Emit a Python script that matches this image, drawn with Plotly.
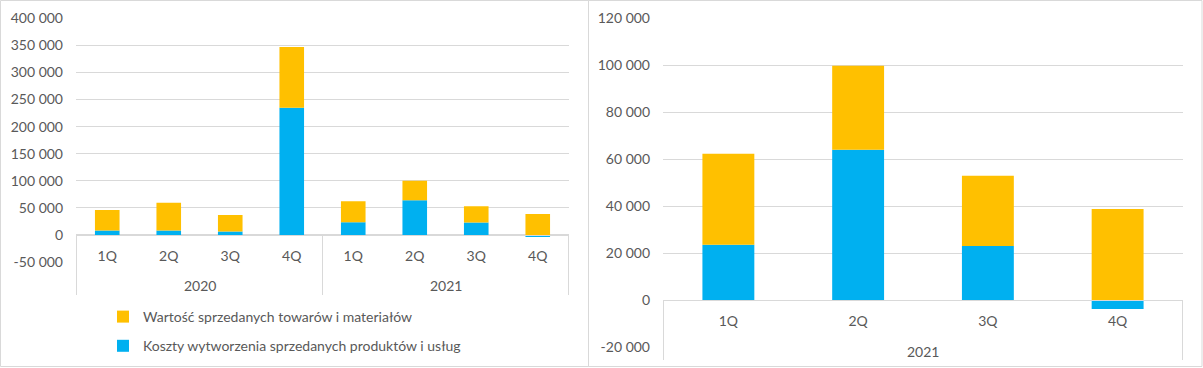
import plotly.graph_objects as go

# ---- data ----
years_left = ["2020", "2020", "2020", "2020", "2021", "2021", "2021", "2021"]
quarters_left = ["1Q", "2Q", "3Q", "4Q", "1Q", "2Q", "3Q", "4Q"]
koszty_left = [8000, 8000, 6100, 234900, 23500, 64000, 23000, -3800]
wartosc_left = [38100, 51600, 30800, 111900, 38800, 35800, 29900, 38800]

years_right = ["2021", "2021", "2021", "2021"]
quarters_right = ["1Q", "2Q", "3Q", "4Q"]
koszty_right = [23500, 64000, 23000, -3800]
wartosc_right = [38800, 35800, 29900, 38800]

name_wartosc = "Wartość sprzedanych towarów i materiałów"
name_koszty = "Koszty wytworzenia sprzedanych produktów i usług"

left_tickvals = [-50000, 0, 50000, 100000, 150000, 200000, 250000, 300000, 350000, 400000]
left_ticktext = ["-50 000", "0", "50 000", "100 000", "150 000", "200 000", "250 000", "300 000", "350 000", "400 000"]
right_tickvals = [-20000, 0, 20000, 40000, 60000, 80000, 100000, 120000]
right_ticktext = ["-20 000", "0", "20 000", "40 000", "60 000", "80 000", "100 000", "120 000"]

# ---- style ----
W, H = 1203, 368
BLUE = "#00B0F0"
YELLOW = "#FFC000"
TXT = "#595959"
GRID = "#D9D9D9"
FONT = "Lato"


def px_x(p):
    return p / W


def px_y(p):
    return 1 - p / H


def keys(years, quarters):
    return [f"{y} {q}" for y, q in zip(years, quarters)]


def year_groups(years):
    """Return (year, center index, start boundary, end boundary) for each year group."""
    groups = []
    start = 0
    for i in range(1, len(years) + 1):
        if i == len(years) or years[i] != years[start]:
            groups.append((years[start], (start + i - 1) / 2, start - 0.5, i - 0.5))
            start = i
    return groups


keys_left = keys(years_left, quarters_left)
keys_right = keys(years_right, quarters_right)

fig = go.Figure()
fig.add_trace(go.Bar(x=keys_left, y=koszty_left, name=name_koszty,
                     marker=dict(color=BLUE, line=dict(width=0)), xaxis="x", yaxis="y",
                     legendgroup="k", legendrank=2))
fig.add_trace(go.Bar(x=keys_left, y=wartosc_left, name=name_wartosc,
                     marker=dict(color=YELLOW, line=dict(width=0)), xaxis="x", yaxis="y",
                     legendgroup="w", legendrank=1))
fig.add_trace(go.Bar(x=keys_right, y=koszty_right, name=name_koszty,
                     marker=dict(color=BLUE, line=dict(width=0)), xaxis="x2", yaxis="y2",
                     showlegend=False))
fig.add_trace(go.Bar(x=keys_right, y=wartosc_right, name=name_wartosc,
                     marker=dict(color=YELLOW, line=dict(width=0)), xaxis="x2", yaxis="y2",
                     showlegend=False))

tickfont = dict(family=FONT, size=14, color=TXT)

xcommon = dict(type="category", showline=True, linecolor=GRID, linewidth=1, ticks="",
               showgrid=False, zeroline=False, tickfont=tickfont, automargin=False,
               anchor="free", tickmode="array", ticklabelstandoff=8)
ycommon = dict(showgrid=True, gridcolor=GRID, gridwidth=1, zeroline=False, showline=False,
               ticks="", tickfont=tickfont, automargin=False, tickmode="array",
               ticklabelstandoff=12)

# axis line (value 0) positions and divider bottoms, in px
LEFT_AXIS_Y, LEFT_DIV_BOTTOM, LEFT_YEAR_Y = 235, 295, 285
RIGHT_AXIS_Y, RIGHT_DIV_BOTTOM, RIGHT_YEAR_Y = 300, 360, 351

shapes = [
    dict(type="rect", xref="paper", yref="paper", x0=px_x(0.5), x1=px_x(588.5),
         y0=px_y(366.5), y1=px_y(0.5), line=dict(color=GRID, width=1), layer="below"),
    dict(type="rect", xref="paper", yref="paper", x0=px_x(588.5), x1=px_x(1202),
         y0=px_y(366.5), y1=px_y(0.5), line=dict(color=GRID, width=1), layer="below"),
]
annotations = []
for xref, years, ay, db, yy in [("x", years_left, LEFT_AXIS_Y, LEFT_DIV_BOTTOM, LEFT_YEAR_Y),
                                ("x2", years_right, RIGHT_AXIS_Y, RIGHT_DIV_BOTTOM, RIGHT_YEAR_Y)]:
    bounds = set()
    for yr, c, b0, b1 in year_groups(years):
        bounds.update([b0, b1])
        annotations.append(dict(xref=xref, yref="paper", x=c, y=px_y(yy), text=yr,
                                showarrow=False, xanchor="center", yanchor="middle",
                                font=tickfont))
    for b in sorted(bounds):
        shapes.append(dict(type="line", xref=xref, yref="paper", x0=b, x1=b,
                           y0=px_y(ay), y1=px_y(db), line=dict(color=GRID, width=1)))

fig.update_layout(
    width=W, height=H, autosize=False,
    margin=dict(l=0, r=0, t=0, b=0),
    paper_bgcolor="white", plot_bgcolor="white",
    barmode="relative", bargap=0.6,
    font=dict(family=FONT, size=14, color=TXT),
    xaxis=dict(xcommon, domain=[px_x(76), px_x(569)], position=px_y(LEFT_AXIS_Y),
               tickvals=keys_left, ticktext=quarters_left),
    yaxis=dict(ycommon, domain=[px_y(262), px_y(18.3)], range=[-50000, 400000],
               tickvals=left_tickvals, ticktext=left_ticktext, anchor="x"),
    xaxis2=dict(xcommon, domain=[px_x(663), px_x(1183)], position=px_y(RIGHT_AXIS_Y),
                tickvals=keys_right, ticktext=quarters_right),
    yaxis2=dict(ycommon, domain=[px_y(347), px_y(18.3)], range=[-20000, 120000],
                tickvals=right_tickvals, ticktext=right_ticktext, anchor="x2"),
    legend=dict(x=px_x(103), y=px_y(301), xanchor="left", yanchor="top",
                traceorder="grouped", tracegroupgap=8,
                font=dict(family=FONT, size=14, color=TXT),
                bgcolor="rgba(0,0,0,0)", itemwidth=30),
    shapes=shapes,
    annotations=annotations,
)

fig.write_html("out.html", config={"displayModeBar": False},
               post_script="document.body.style.margin='0';")
